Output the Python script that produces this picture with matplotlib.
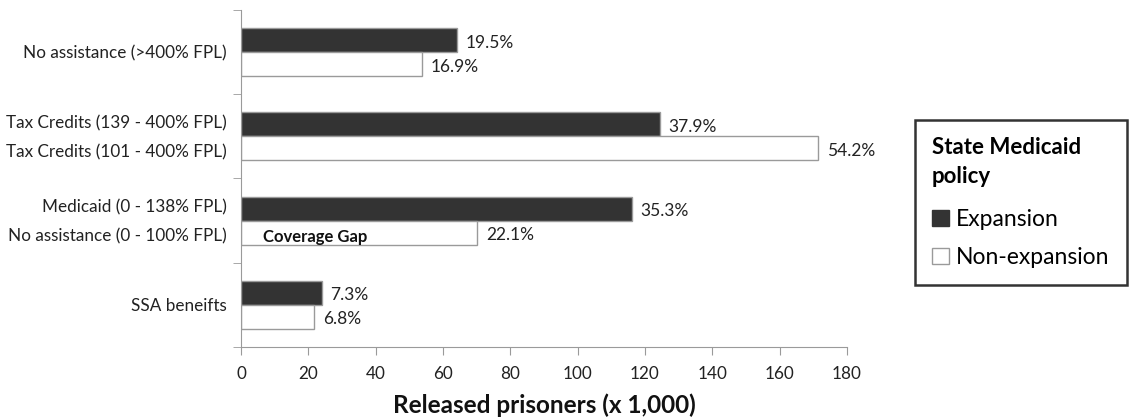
import matplotlib.pyplot as plt
from matplotlib.patches import Patch
import numpy as np

plt.rcParams['font.family'] = ['Lato', 'DejaVu Sans']

# Data (top to bottom), released prisoners in thousands
groups = ["No assistance", "Tax Credits", "Medicaid", "SSA"]
expansion = [64.1, 124.5, 116.0, 24.0]
non_expansion = [53.8, 171.5, 70.2, 21.8]
exp_pct = ["19.5%", "37.9%", "35.3%", "7.3%"]
nonexp_pct = ["16.9%", "54.2%", "22.1%", "6.8%"]
row_labels = [
    [(0.0, "No assistance (>400% FPL)")],
    [(-0.175, "Tax Credits (139 - 400% FPL)"), (0.175, "Tax Credits (101 - 400% FPL)")],
    [(-0.175, "Medicaid (0 - 138% FPL)"), (0.175, "No assistance (0 - 100% FPL)")],
    [(0.0, "SSA beneifts")],
]

DARK = "#333333"
EDGE = "#9a9a9a"
bar_h = 0.286

fig = plt.figure(figsize=(11.32, 4.19), dpi=100)
ax = fig.add_axes([0.2129, 0.172, 0.5353, 0.804])

y = np.arange(len(groups))
ax.barh(y - bar_h / 2, expansion, height=bar_h, color=DARK, edgecolor=EDGE, linewidth=1)
ax.barh(y + bar_h / 2, non_expansion, height=bar_h, color="white", edgecolor=EDGE, linewidth=1)

for i in range(len(groups)):
    ax.text(expansion[i] + 2.5, y[i] - bar_h / 2 + 0.03, exp_pct[i],
            va="center", ha="left", fontsize=12.5, color="#222222")
    ax.text(non_expansion[i] + 2.5, y[i] + bar_h / 2 + 0.03, nonexp_pct[i],
            va="center", ha="left", fontsize=12.5, color="#222222")

ax.text(6.5, y[2] + bar_h / 2 + 0.05, "Coverage Gap", fontweight="bold",
        va="center", ha="left", fontsize=12, color="#111111")

# category labels
ticks, labels = [], []
for i, rows in enumerate(row_labels):
    for off, lab in rows:
        ticks.append(i + off)
        labels.append(lab)
ax.set_yticks(ticks)
ax.set_yticklabels(labels, fontsize=12.3, color="#222222")
ax.tick_params(axis="y", which="major", length=0, pad=10)
ax.set_yticks(np.arange(-0.5, len(groups), 1.0), minor=True)
ax.tick_params(axis="y", which="minor", length=6, color=EDGE, direction="out")

ax.set_ylim(len(groups) - 0.5, -0.5)
ax.set_xlim(0, 180)
ax.set_xticks(np.arange(0, 181, 20))
ax.tick_params(axis="x", length=6, color=EDGE, labelsize=12.3, labelcolor="#222222", pad=8)

for s in ["top", "right"]:
    ax.spines[s].set_visible(False)
for s in ["left", "bottom"]:
    ax.spines[s].set_color(EDGE)

ax.set_xlabel("Released prisoners (x 1,000)", fontsize=17.5, fontweight="bold",
              color="#111111", labelpad=8)

handles = [Patch(facecolor=DARK, edgecolor=DARK, label="Expansion"),
           Patch(facecolor="white", edgecolor=EDGE, label="Non-expansion")]
leg = fig.legend(handles=handles, title="State Medicaid\npolicy",
                 loc="upper left", bbox_to_anchor=(0.808, 0.714),
                 borderaxespad=0,
                 fontsize=16.5, title_fontproperties={"weight": "bold", "size": 16},
                 frameon=True, fancybox=False, edgecolor="black",
                 handlelength=0.75, handleheight=0.75, handletextpad=0.3,
                 borderpad=0.75, labelspacing=0.75)
leg._legend_box.align = "left"
leg._legend_box.sep = 16
leg.get_title().set_linespacing(1.45)
leg.get_frame().set_linewidth(1.8)

fig.savefig("out.png", dpi=100)
